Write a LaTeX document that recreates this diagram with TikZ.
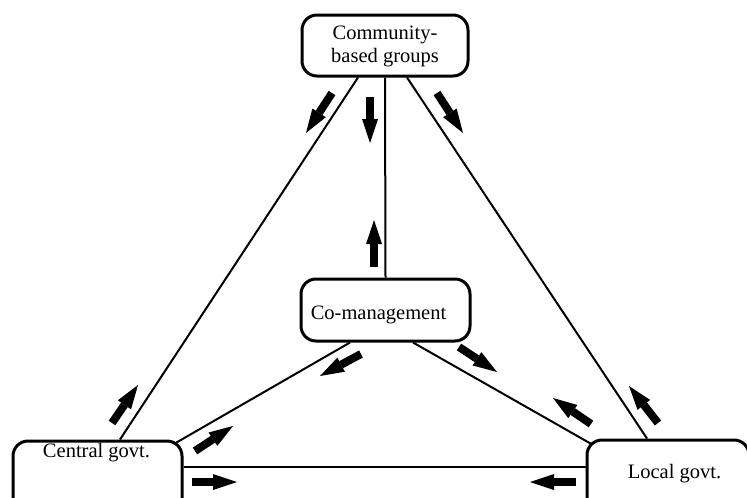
\documentclass[tikz,border=0pt]{standalone}
\usepackage{fontspec}
\setmainfont{Liberation Serif}
\usetikzlibrary{arrows.meta}
\begin{document}
\begin{tikzpicture}[x=1pt,y=-1pt,
  box/.style={draw, line width=3pt, rounded corners=15pt, inner sep=0pt, fill=white},
  txt/.style={font=\fontsize{20.5}{23}\selectfont, inner sep=0pt, align=center},
  conn/.style={line width=2pt},
  blockarrow/.style={line width=8pt, -{Triangle[length=24pt 0 0, width=16pt 0 0, line width=0pt 0 0]}}]
\useasboundingbox (0,0) rectangle (747,498);
% boxes
\node[box, minimum width=166pt, minimum height=61pt] (cb) at (385,45.5) {};
\node[box, minimum width=169pt, minimum height=62pt] (cm) at (385.5,310) {};
\node[box, minimum width=169pt, minimum height=80pt] (cg) at (97.5,481) {};
\node[box, minimum width=162pt, minimum height=80pt] (lg) at (668,480) {};
% texts
\node[txt] (cbt) at (385,46) {Community-\\based groups};
\node[txt, anchor=base] (cmt) at (378.5,319) {Co-management};
\node[txt, anchor=base] (cgt) at (96.5,457) {Central govt.};
\node[txt, anchor=base] (lgt) at (674.5,478) {Local govt.};
% connectors
\begin{scope}[on background layer/.style={}]
\draw[conn] (cb.south) -- (cm.north);
\draw[conn] ([xshift=-27pt]cb.south) -- ([xshift=22.5pt]cg.north);
\draw[conn] ([xshift=22pt]cb.south) -- ([xshift=-21pt]lg.north);
\draw[conn] ([xshift=-35.5pt]cm.south) -- ([xshift=-7pt,yshift=-3pt]cg.north east);
\draw[conn] ([xshift=27.5pt]cm.south) -- ([xshift=5pt,yshift=-5pt]lg.north west);
\draw[conn] ([yshift=14pt]cg.east) -- ([yshift=13pt]lg.west);
\end{scope}
% block arrows
\draw[blockarrow] (332,93) -- (306,133);
\draw[blockarrow] (370,97) -- (370,143);
\draw[blockarrow] (437,93) -- (463,133);
\draw[blockarrow] (374,267) -- (374,220);
\draw[blockarrow] (361,354) -- (320,376);
\draw[blockarrow] (459,347) -- (497,372);
\draw[blockarrow] (112,423) -- (138,385);
\draw[blockarrow] (195,451) -- (233,426);
\draw[blockarrow] (192,482) -- (237,482);
\draw[blockarrow] (591,424) -- (553,398);
\draw[blockarrow] (658,423) -- (629,386);
\draw[blockarrow] (576,482) -- (530,482);
\end{tikzpicture}
\end{document}
